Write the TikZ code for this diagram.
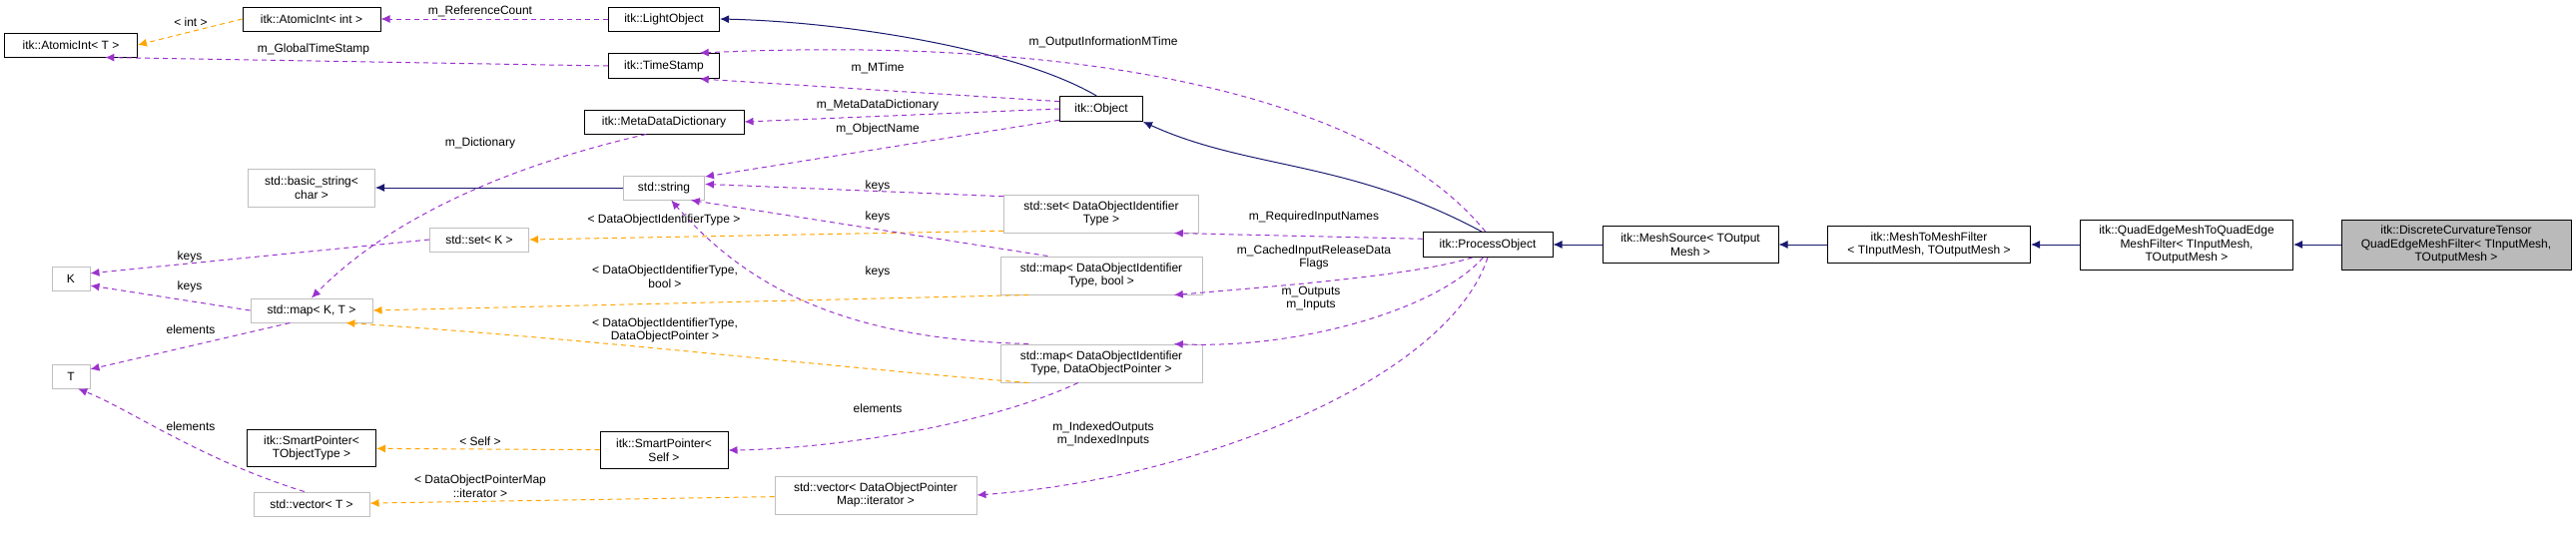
\documentclass[tikz,border=0pt]{standalone}
\usepackage{fontspec}
\setmainfont{Liberation Sans}
\usetikzlibrary{arrows.meta}
\definecolor{inhc}{HTML}{191970}
\definecolor{memc}{HTML}{9A32CD}
\definecolor{tplc}{HTML}{FFA500}
\tikzset{bx/.append style={draw,rectangle,inner sep=3pt,align=center,font=\fontsize{12}{13.5}\selectfont,line width=1pt}}
\tikzset{cls/.append style={bx,draw=black}}
\tikzset{ext/.append style={bx,draw=black!25}}
\tikzset{cur/.append style={cls,fill=black!27}}
\tikzset{inh/.append style={draw=inhc,line width=1pt,-{Latex[length=9pt,width=8pt]}}}
\tikzset{mem/.append style={draw=memc,line width=1pt,dash pattern=on 5pt off 4pt,-{Latex[length=9pt,width=8pt]}}}
\tikzset{tpl/.append style={draw=tplc,line width=1pt,dash pattern=on 5pt off 4pt,-{Latex[length=9pt,width=8pt]}}}
\tikzset{lb/.append style={font=\fontsize{12}{13.5}\selectfont,align=center,inner sep=1pt}}

\begin{document}
\begin{tikzpicture}[x=1pt,y=-1pt]
                \useasboundingbox (0,0) rectangle (2580,552);
                % classes
                \node[cls,minimum width=133,minimum height=24] (ait) at (71,45) {itk::AtomicInt< T >};
                \node[cls,minimum width=138,minimum height=24] (aii) at (312,19) {itk::AtomicInt< int >};
                \node[cls,minimum width=111,minimum height=24] (lo) at (665,19) {itk::LightObject};
                \node[cls,minimum width=111,minimum height=25] (ts) at (665,66) {itk::TimeStamp};
                \node[cls,minimum width=160,minimum height=24] (mdd) at (665,122) {itk::MetaDataDictionary};
                \node[ext,minimum width=127,minimum height=38] (bs) at (312,188) {std::basic\_string<\\char >};
                \node[ext,minimum width=81,minimum height=24] (str) at (665,188) {std::string};
                \node[ext,minimum width=99,minimum height=24] (sk) at (480,240) {std::set< K >};
                \node[ext,minimum width=38,minimum height=24] (k) at (71,279) {K};
                \node[ext,minimum width=122,minimum height=24] (mkt) at (312,311) {std::map< K, T >};
                \node[ext,minimum width=38,minimum height=24] (t) at (71,377) {T};
                \node[cls,minimum width=129,minimum height=37] (spt) at (312,449) {itk::SmartPointer<\\TObjectType >};
                \node[cls,minimum width=128,minimum height=37] (sps) at (665,451) {itk::SmartPointer<\\Self >};
                \node[ext,minimum width=116,minimum height=24] (vt) at (312,505) {std::vector< T >};
                \node[cls,minimum width=83,minimum height=25] (obj) at (1103,109) {itk::Object};
                \node[ext,minimum width=195,minimum height=38] (sdo) at (1103,214) {std::set< DataObjectIdentifier\\Type >};
                \node[ext,minimum width=202,minimum height=38] (mdb) at (1103,276) {std::map< DataObjectIdentifier\\Type, bool >};
                \node[ext,minimum width=202,minimum height=38] (mdp) at (1103,364) {std::map< DataObjectIdentifier\\Type, DataObjectPointer >};
                \node[ext,minimum width=202,minimum height=38] (vdp) at (877,496) {std::vector< DataObjectPointer\\Map::iterator >};
                \node[cls,minimum width=130,minimum height=25] (po) at (1490,245) {itk::ProcessObject};
                \node[cls,minimum width=176,minimum height=37] (ms) at (1693,245) {itk::MeshSource< TOutput\\Mesh >};
                \node[cls,minimum width=203,minimum height=37] (mtm) at (1932,245) {itk::MeshToMeshFilter\\< TInputMesh, TOutputMesh >};
                \node[cls,minimum width=213,minimum height=50] (qe) at (2190,245) {itk::QuadEdgeMeshToQuadEdge\\MeshFilter< TInputMesh,\\TOutputMesh >};
                \node[cur,minimum width=230,minimum height=50] (dc) at (2460,245) {itk::DiscreteCurvatureTensor\\QuadEdgeMeshFilter< TInputMesh,\\TOutputMesh >};
                % inheritance
                \path (dc) edge[inh] (qe);
                \path (qe) edge[inh] (mtm);
                \path (mtm) edge[inh] (ms);
                \path (ms) edge[inh] (po);
                \draw[inh] (po.115) .. controls (1350,160) and (1250,170) .. (obj.south east);
                \draw[inh] (obj.110) .. controls (1020,50) and (850,22) .. (lo.east);
                \path (str) edge[inh] (bs);
                % members
                \path (lo) edge[mem] (aii);
                \path (aii.west) edge[tpl] (ait.east);
                \draw[mem] (ts.west) -- (ait.-20);
                \draw[mem] (obj.170) -- (ts.-20);
                \draw[mem] (po.100) .. controls (1380,100) and (1100,35) .. (ts.20);
                \path (obj.west) edge[mem] (mdd.east);
                \draw[mem] (obj.-165) -- (str.15);
                \draw[mem] (mdd.-145) .. controls (450,180) and (360,250) .. (mkt.north);
                \draw[mem] (sdo.170) -- (str.5);
                \draw[tpl] (sdo.-170) -- (sk.east);
                \draw[mem] (mdb.160) -- (str.-25);
                \draw[tpl] (mdb.-165) -- (mkt.east);
                \draw[mem] (mdp.165) .. controls (850,340) and (750,290) .. (str.-60);
                \draw[tpl] (mdp.-165) .. controls (800,365) and (600,340) .. (mkt.-20);
                \draw[mem] (sk.west) -- (k.15);
                \draw[mem] (mkt.west) -- (k.-20);
                \draw[mem] (mkt.-150) -- (t.20);
                \draw[mem] (vt.120) .. controls (200,460) and (130,410) .. (t.-60);
                \path (sps) edge[tpl] (spt);
                \draw[mem] (mdp.-140) .. controls (980,430) and (820,450) .. (sps.east);
                \path (vdp) edge[tpl] (vt);
                \draw[mem] (po.175) -- (sdo.-15);
                \draw[mem] (po.-140) .. controls (1420,275) and (1300,285) .. (mdb.-15);
                \draw[mem] (po.-110) .. controls (1440,310) and (1300,350) .. (mdp.15);
                \draw[mem] (po.-90) .. controls (1450,380) and (1200,480) .. (vdp.east);
                % labels
                \node[lb] (l1) at (481,11) {m\_ReferenceCount};
                \node[lb] (l2) at (191,22) {< int >};
                \node[lb] (l3) at (314,49) {m\_GlobalTimeStamp};
                \node[lb] (l4) at (1105,42) {m\_OutputInformationMTime};
                \node[lb] (l5) at (879,68) {m\_MTime};
                \node[lb] (l6) at (879,105) {m\_MetaDataDictionary};
                \node[lb] (l7) at (879,129) {m\_ObjectName};
                \node[lb] (l8) at (481,143) {m\_Dictionary};
                \node[lb] (l9) at (879,186) {keys};
                \node[lb] (l10) at (879,217) {keys};
                \node[lb] (l11) at (879,272) {keys};
                \node[lb] (l12) at (665,220) {< DataObjectIdentifierType >};
                \node[lb] (l13) at (190,257) {keys};
                \node[lb] (l14) at (190,287) {keys};
                \node[lb] (l15) at (666,277) {< DataObjectIdentifierType,\\bool >};
                \node[lb] (l16) at (666,331) {< DataObjectIdentifierType,\\DataObjectPointer >};
                \node[lb] (l17) at (191,330) {elements};
                \node[lb] (l18) at (191,427) {elements};
                \node[lb] (l19) at (481,442) {< Self >};
                \node[lb] (l20) at (481,487) {< DataObjectPointerMap\\::iterator >};
                \node[lb] (l21) at (879,409) {elements};
                \node[lb] (l22) at (1316,217) {m\_RequiredInputNames};
                \node[lb] (l23) at (1316,258) {m\_CachedInputReleaseData\\Flags};
                \node[lb] (l24) at (1313,299) {m\_Outputs\\m\_Inputs};
                \node[lb] (l25) at (1105,435) {m\_IndexedOutputs\\m\_IndexedInputs};
            \end{tikzpicture}
\end{document}
